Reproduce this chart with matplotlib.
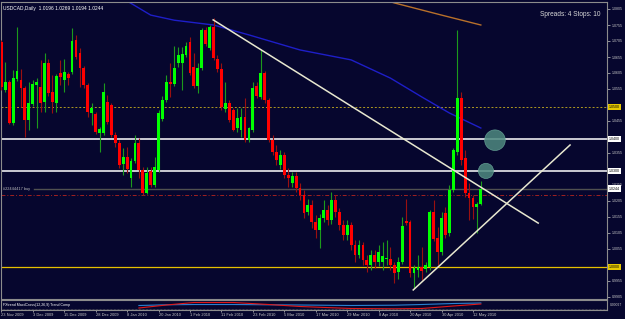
import matplotlib
matplotlib.use("Agg")
import matplotlib.pyplot as plt
import numpy as np

plt.rcParams['font.family'] = ['Liberation Sans', 'DejaVu Sans']

# --- daily candles, USDCAD 23 Nov 2009 .. 14 May 2010 ---
opens = [1.0702, 1.0552, 1.0577, 1.0449, 1.0586, 1.0583, 1.0558, 1.0458, 1.0508, 1.0567,
         1.0561, 1.0514, 1.0636, 1.0546, 1.0511, 1.0605, 1.0583, 1.0602, 1.0608, 1.0708,
         1.0667, 1.0620, 1.0567, 1.0480, 1.0477, 1.0417, 1.0417, 1.0514, 1.0505, 1.0411,
         1.0386, 1.0320, 1.0342, 1.0277, 1.0330, 1.0386, 1.0302, 1.0230, 1.0299, 1.0255,
         1.0302, 1.0461, 1.0521, 1.0577, 1.0571, 1.0636, 1.0636, 1.0661, 1.0702, 1.0624,
         1.0564, 1.0620, 1.0739, 1.0683, 1.0749, 1.0649, 1.0617, 1.0492, 1.0511, 1.0489,
         1.0433, 1.0427, 1.0467, 1.0395, 1.0427, 1.0564, 1.0530, 1.0605, 1.0521, 1.0395,
         1.0358, 1.0317, 1.0349, 1.0286, 1.0261, 1.0283, 1.0245, 1.0224, 1.0170, 1.0192,
         1.0139, 1.0114, 1.0152, 1.0177, 1.0145, 1.0208, 1.0170, 1.0130, 1.0099, 1.0130,
         1.0067, 1.0036, 1.0067, 1.0020, 1.0005, 1.0036, 1.0014, 1.0014, 1.0024, 1.0024,
         1.0005, 0.9983, 1.0014, 1.0142, 1.0139, 0.9980, 0.9989, 0.9999, 0.9992, 0.9999,
         1.0170, 1.0089, 1.0045, 1.0167, 1.0105, 1.0239, 1.0358, 1.0527, 1.0339, 1.0230,
         1.0214, 1.0186, 1.0196]
highs = [1.0708, 1.0639, 1.0583, 1.0614, 1.0749, 1.0617, 1.0564, 1.0577, 1.0583, 1.0589,
         1.0646, 1.0667, 1.0649, 1.0599, 1.0602, 1.0646, 1.0649, 1.0608, 1.0746, 1.0724,
         1.0683, 1.0627, 1.0574, 1.0511, 1.0483, 1.0436, 1.0574, 1.0536, 1.0511, 1.0420,
         1.0395, 1.0370, 1.0374, 1.0339, 1.0411, 1.0402, 1.0311, 1.0311, 1.0311, 1.0342,
         1.0489, 1.0533, 1.0599, 1.0636, 1.0689, 1.0686, 1.0686, 1.0702, 1.0717, 1.0667,
         1.0636, 1.0746, 1.0749, 1.0755, 1.0777, 1.0661, 1.0636, 1.0577, 1.0521, 1.0496,
         1.0496, 1.0496, 1.0527, 1.0436, 1.0577, 1.0577, 1.0677, 1.0611, 1.0527, 1.0411,
         1.0380, 1.0364, 1.0358, 1.0308, 1.0296, 1.0296, 1.0261, 1.0239, 1.0211, 1.0208,
         1.0161, 1.0164, 1.0208, 1.0192, 1.0233, 1.0224, 1.0183, 1.0145, 1.0145, 1.0139,
         1.0083, 1.0083, 1.0077, 1.0036, 1.0052, 1.0052, 1.0067, 1.0077, 1.0083, 1.0061,
         1.0014, 1.0030, 1.0155, 1.0211, 1.0145, 1.0005, 1.0036, 1.0061, 1.0014, 1.0177,
         1.0208, 1.0124, 1.0170, 1.0186, 1.0255, 1.0370, 1.0739, 1.0546, 1.0364, 1.0261,
         1.0224, 1.0202, 1.0269]
lows = [1.0552, 1.0546, 1.0446, 1.0442, 1.0580, 1.0499, 1.0405, 1.0427, 1.0502, 1.0433,
        1.0483, 1.0483, 1.0533, 1.0480, 1.0483, 1.0567, 1.0546, 1.0567, 1.0602, 1.0649,
        1.0561, 1.0558, 1.0467, 1.0442, 1.0414, 1.0358, 1.0411, 1.0446, 1.0405, 1.0374,
        1.0308, 1.0286, 1.0292, 1.0249, 1.0324, 1.0277, 1.0224, 1.0227, 1.0249, 1.0249,
        1.0296, 1.0455, 1.0514, 1.0530, 1.0564, 1.0624, 1.0552, 1.0655, 1.0599, 1.0558,
        1.0542, 1.0614, 1.0689, 1.0677, 1.0646, 1.0608, 1.0489, 1.0483, 1.0452, 1.0424,
        1.0420, 1.0405, 1.0389, 1.0389, 1.0420, 1.0527, 1.0524, 1.0511, 1.0389, 1.0349,
        1.0317, 1.0305, 1.0277, 1.0249, 1.0249, 1.0233, 1.0208, 1.0152, 1.0161, 1.0120,
        1.0089, 1.0058, 1.0139, 1.0130, 1.0133, 1.0155, 1.0114, 1.0083, 1.0083, 1.0052,
        1.0014, 1.0027, 1.0005, 0.9983, 0.9989, 0.9995, 1.0002, 0.9989, 1.0005, 0.9989,
        0.9949, 0.9961, 1.0008, 1.0130, 0.9967, 0.9933, 0.9967, 0.9958, 0.9983, 0.9989,
        1.0080, 1.0005, 1.0036, 1.0089, 1.0095, 1.0233, 1.0349, 1.0317, 1.0217, 1.0145,
        1.0149, 1.0105, 1.0194]
closes = [1.0561, 1.0577, 1.0449, 1.0589, 1.0611, 1.0558, 1.0458, 1.0511, 1.0571, 1.0577,
          1.0511, 1.0636, 1.0542, 1.0514, 1.0596, 1.0592, 1.0608, 1.0589, 1.0705, 1.0655,
          1.0620, 1.0567, 1.0483, 1.0496, 1.0420, 1.0430, 1.0546, 1.0452, 1.0411, 1.0386,
          1.0317, 1.0342, 1.0305, 1.0330, 1.0386, 1.0302, 1.0230, 1.0292, 1.0255, 1.0311,
          1.0480, 1.0521, 1.0577, 1.0571, 1.0620, 1.0661, 1.0664, 1.0689, 1.0605, 1.0564,
          1.0620, 1.0739, 1.0696, 1.0749, 1.0652, 1.0617, 1.0499, 1.0511, 1.0458, 1.0427,
          1.0464, 1.0467, 1.0395, 1.0433, 1.0558, 1.0533, 1.0605, 1.0521, 1.0395, 1.0358,
          1.0333, 1.0349, 1.0286, 1.0277, 1.0283, 1.0245, 1.0224, 1.0167, 1.0192, 1.0139,
          1.0114, 1.0152, 1.0177, 1.0145, 1.0208, 1.0170, 1.0130, 1.0099, 1.0130, 1.0067,
          1.0036, 1.0067, 1.0020, 1.0005, 1.0036, 1.0014, 1.0045, 1.0033, 1.0027, 1.0005,
          0.9980, 1.0014, 1.0127, 1.0136, 0.9980, 0.9995, 0.9999, 0.9986, 1.0005, 1.0170,
          1.0086, 1.0045, 1.0152, 1.0099, 1.0239, 1.0364, 1.0527, 1.0333, 1.0230, 1.0214,
          1.0186, 1.0196, 1.0244]

date_labels = ["23 Nov 2009", "3 Dec 2009", "15 Dec 2009", "28 Dec 2009", "8 Jan 2010",
               "20 Jan 2010", "1 Feb 2010", "11 Feb 2010", "23 Feb 2010", "5 Mar 2010",
               "17 Mar 2010", "29 Mar 2010", "8 Apr 2010", "20 Apr 2010", "30 Apr 2010",
               "12 May 2010"]

# moving averages (bar index, value) read at a few points
ma_blue_bars = [30, 32, 38, 44, 54, 63, 76, 89, 99, 107, 114, 122]
ma_blue = [1.0850, 1.0830, 1.0786, 1.0770, 1.0755, 1.0724, 1.0677, 1.0646, 1.0589, 1.0530, 1.0480, 1.0433]
ma_brown_bars = [97, 100, 112, 122]
ma_brown = [1.0835, 1.0824, 1.0786, 1.0755]

# drawn objects
h_levels = [1.0500, 1.0400, 1.0300, 1.0000]
last_price = 1.0244
stop_level = 1.0224
down_trend = ([53.9, 136.6], [1.0771, 1.0136])
up_trend = ([104.8, 144.7], [0.9927, 1.0380])
circles = ([125.6, 123.3], [1.0395, 1.0299])

# lower indicator window
ind_bars = [35, 42, 49, 59, 68, 76, 89, 100, 107, 115, 122]
ind_red = [20, 50, 75, 75, 55, 35, 15, 12, 15, 40, 60]
ind_blue = [45, 52, 55, 55, 52, 50, 45, 48, 55, 65, 70]

bg = '#06062e'
fg = '#c8c8c8'
W, H = 625, 319

fig = plt.figure(figsize=(W / 100, H / 100), dpi=100, facecolor=bg)
ax = fig.add_axes([1 / W, 20 / H, 606 / W, 297 / H], facecolor=bg)

x = np.arange(len(opens))
o = np.array(opens); c = np.array(closes)
up = c >= o
body_col = np.where(up, '#00ff00', '#ff0000')
wick_col = np.where(up, '#1c9a1c', '#9a1010')

ax.vlines(x, lows, highs, colors=wick_col, lw=0.8, zorder=3)
ax.bar(x, np.maximum(np.abs(c - o), 0.00012), bottom=np.minimum(o, c),
       width=0.72, color=body_col, linewidth=0, zorder=4)

# moving averages
ax.plot(ma_blue_bars, ma_blue, color='#1e1ec8', lw=1.0, zorder=2)
ax.plot(ma_brown_bars, ma_brown, color='#b8702a', lw=1.0, zorder=2)

# horizontal lines
ax.axhline(h_levels[0], color='#b09a20', lw=0.7, ls=(0, (2, 2)), zorder=1)
ax.axhline(h_levels[1], color='white', lw=1.1, zorder=1)
ax.axhline(h_levels[2], color='white', lw=1.1, zorder=1)
ax.axhline(h_levels[3], color='#e6c000', lw=0.9, zorder=1)
ax.axhline(last_price, xmin=33 / 606, color='#505050', lw=1.0, zorder=1)
ax.axhline(stop_level, color='#a02020', lw=0.7, ls=(0, (4, 2, 1, 2)), zorder=1)
ax.text(0.004, last_price, "#22444417 buy", transform=ax.get_yaxis_transform(),
        fontsize=2.8, color='#c0c0c0', va='center', ha='left')

# trend lines and circles
ax.plot(*down_trend, color='#e8e8d0', lw=1.1, zorder=5)
ax.plot(*up_trend, color='#e8e8d0', lw=1.1, zorder=5)
ax.scatter(circles[0], circles[1], s=[220, 120], color='#4e8a80', alpha=0.85,
           edgecolors='#6aa89a', linewidths=0.5, zorder=6)

ax.set_xlim(-0.08, 154.1)
ax.set_ylim(0.989875, 1.0826875)

# right price scale
ticks = [round(0.9905 + 0.005 * k, 4) for k in range(19)]
ticks = [t for t in ticks if all(abs(t - lv) > 0.002 for lv in h_levels)]
ax.yaxis.tick_right()
ax.set_yticks(ticks)
ax.set_yticklabels([f"{t:.4f}" for t in ticks])
ax.tick_params(axis='y', length=2, width=0.5, colors=fg, labelsize=2.6, pad=1.5)
ax.set_xticks([])
for s in ax.spines.values():
    s.set_color('#8c8c8c')
    s.set_linewidth(0.8)

for lv, fc in [(h_levels[0], '#e6c800'), (h_levels[1], 'white'), (h_levels[2], 'white'),
               (last_price, 'white'), (h_levels[3], '#e6c800')]:
    ax.annotate(f"{lv:.4f}", xy=(1, lv), xycoords=('axes fraction', 'data'),
                xytext=(1.5, 0), textcoords='offset points', va='center', ha='left',
                fontsize=2.6, color='black', annotation_clip=False,
                bbox=dict(boxstyle='square,pad=0.3', fc=fc, ec='none'))

ax.text(0.004, 0.985, "USDCAD,Daily  1.0196 1.0269 1.0194 1.0244", transform=ax.transAxes,
        fontsize=3.5, color='white', va='top', ha='left')
ax.text(0.99, 0.97, "Spreads: 4 Stops: 10", transform=ax.transAxes,
        fontsize=4.7, color='#d8d8d8', va='top', ha='right')

# indicator window
ax2 = fig.add_axes([1 / W, 9 / H, 606 / W, 10 / H], facecolor=bg)
ax2.plot(ind_bars, ind_blue, color='#2a80d0', lw=0.8)
ax2.plot(ind_bars, ind_red, color='#e01818', lw=0.8)
ax2.axhline(10, color='#707070', lw=0.5, ls=(0, (1, 1)))
ax2.set_xlim(ax.get_xlim())
ax2.set_ylim(0, 100)
ax2.set_yticks([])
ax2.text(0.004, 0.5, "FXtrend MacdCross(12,26,9) Trend Comp", transform=ax2.transAxes,
         fontsize=2.6, color='white', va='center', ha='left')
ax2.text(1.005, 0.5, "0.00027", transform=ax2.transAxes,
         fontsize=2.4, color=fg, va='center', ha='left')
ax2.set_xticks(np.arange(len(date_labels)) * 8)
ax2.set_xticklabels(date_labels, ha='left')
ax2.tick_params(axis='x', length=1.5, width=0.5, colors=fg, labelsize=2.9, pad=1)
for s in ax2.spines.values():
    s.set_color('#8c8c8c')
    s.set_linewidth(0.8)

fig.savefig("out.png", dpi=100, facecolor=bg)
